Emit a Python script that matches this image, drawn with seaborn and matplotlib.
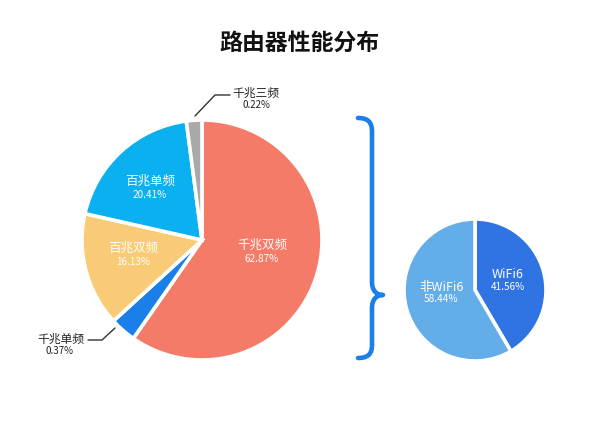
import matplotlib
matplotlib.use("Agg")
import matplotlib.pyplot as plt
import seaborn as sns
from matplotlib.path import Path
from matplotlib.patches import PathPatch

# left pie: router types
router_types = ["千兆双频", "千兆单频", "百兆双频", "百兆单频", "千兆三频"]
router_pct = [62.87, 0.37, 16.13, 20.41, 0.22]
# the picture draws the two tiny slices larger than their share
router_drawn = [62.87, 3.7, 16.13, 20.41, 2.2]
router_colors = ["#F47B67", "#1A7FE8", "#FACB76", "#0BB0F0", "#A9A9A9"]

# right pie: wifi6 share
wifi_types = ["WiFi6", "非WiFi6"]
wifi_pct = [41.56, 58.44]
wifi_colors = ["#2F74E2", "#63ADE9"]

sns.set_theme(style="white")
plt.rcParams["font.family"] = ["Noto Sans CJK SC", "DejaVu Sans"]

W, H = 600, 434
fig = plt.figure(figsize=(6, 4.34), dpi=100)
ax = fig.add_axes([0, 0, 1, 1])


def py(y):
    # pixel row -> data y
    return H - y


ax.pie(router_drawn, colors=sns.color_palette(router_colors), startangle=90,
       counterclock=False, center=(202, py(240)), radius=120,
       wedgeprops=dict(edgecolor="white", linewidth=2.6), frame=True)
ax.pie(wifi_pct, colors=sns.color_palette(wifi_colors), startangle=90,
       counterclock=False, center=(475, py(290)), radius=71,
       wedgeprops=dict(edgecolor="white", linewidth=2.6), frame=True)

ax.set_xlim(0, W)
ax.set_ylim(0, H)
ax.set_aspect("equal")
ax.axis("off")

ax.text(299, py(43), "路由器性能分布", ha="center", va="center",
        fontsize=16.5, fontweight="bold", color="#111111")

# labels inside the left pie
inner = {"千兆双频": (262, 245), "百兆单频": (150, 181), "百兆双频": (133, 248)}
for name, pct in zip(router_types, router_pct):
    if name in inner:
        x, y = inner[name]
        ax.text(x, py(y), name, ha="center", va="center", fontsize=9, color="white")
        ax.text(x, py(y + 14), f"{pct:.2f}%", ha="center", va="center",
                fontsize=7.2, color="white")

# outside labels with leader lines
ax.plot([195, 215, 230], [py(116), py(95), py(95)], color="#333333", lw=1)
ax.text(256, py(93), router_types[4], ha="center", va="center", fontsize=8.5, color="#222222")
ax.text(256, py(105), f"{router_pct[4]:.2f}%", ha="center", va="center", fontsize=7, color="#222222")

ax.plot([88, 102, 115], [py(340), py(340), py(328)], color="#333333", lw=1)
ax.text(61, py(339), router_types[1], ha="center", va="center", fontsize=8.5, color="#222222")
ax.text(60, py(351), f"{router_pct[1]:.2f}%", ha="center", va="center", fontsize=7, color="#222222")

# labels inside the right pie
wifi_pos = [(508, 275), (441, 287)]
for name, pct, (x, y) in zip(wifi_types, wifi_pct, wifi_pos):
    ax.text(x, py(y), name, ha="center", va="center", fontsize=9, color="white")
    ax.text(x, py(y + 12), f"{pct:.2f}%", ha="center", va="center", fontsize=7.2, color="white")

# curly brace between the two pies
pts = [(358, 118), (368, 118), (372, 122), (372, 132),
       (372, 282), (372, 290), (376, 295), (383, 295),
       (376, 295), (372, 300), (372, 308),
       (372, 345), (372, 354), (368, 358), (358, 358)]
codes = [Path.MOVETO, Path.CURVE4, Path.CURVE4, Path.CURVE4,
         Path.LINETO, Path.CURVE4, Path.CURVE4, Path.CURVE4,
         Path.CURVE4, Path.CURVE4, Path.CURVE4,
         Path.LINETO, Path.CURVE4, Path.CURVE4, Path.CURVE4]
brace = Path([(x, py(y)) for x, y in pts], codes)
ax.add_patch(PathPatch(brace, facecolor="none", edgecolor="#1A7FE8", lw=3.3,
                       capstyle="round", joinstyle="round"))

fig.savefig("out.png", dpi=100)
